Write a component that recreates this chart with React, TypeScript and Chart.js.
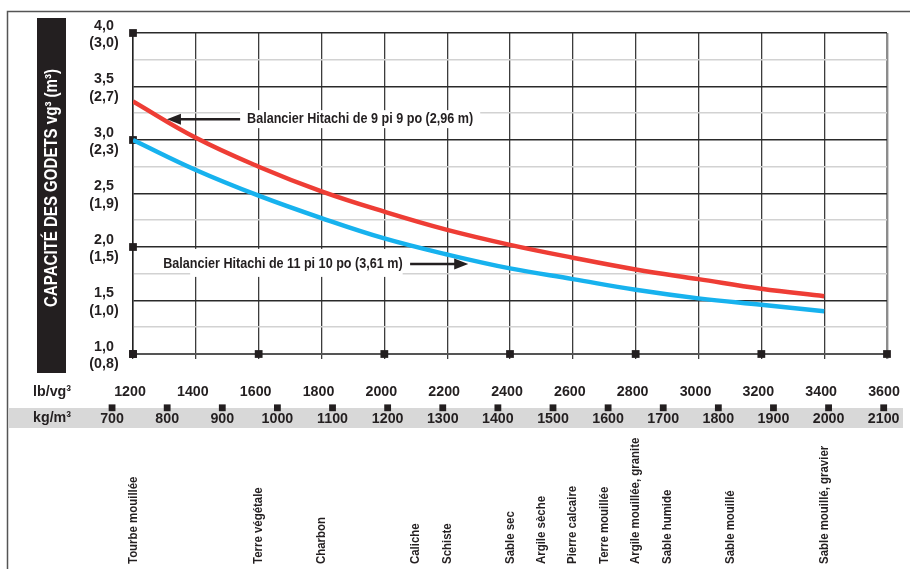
import React, { useEffect, useRef } from "react";
import { Chart, registerables } from "chart.js";

Chart.register(...registerables);

// ---- data ----
const lbTicks = [1200, 1400, 1600, 1800, 2000, 2200, 2400, 2600, 2800, 3000, 3200, 3400, 3600];
const kgTicks = [700, 800, 900, 1000, 1100, 1200, 1300, 1400, 1500, 1600, 1700, 1800, 1900, 2000, 2100];
const capYd = [4.0, 3.5, 3.0, 2.5, 2.0, 1.5, 1.0];
const capYdLabels = ["4,0", "3,5", "3,0", "2,5", "2,0", "1,5", "1,0"];
const capM3Labels = ["(3,0)", "(2,7)", "(2,3)", "(1,9)", "(1,5)", "(1,0)", "(0,8)"];

const densityLb = [1200, 1400, 1600, 1800, 2000, 2200, 2400, 2600, 2800, 3000, 3200, 3400];
const boom296 = [3.36, 3.02, 2.75, 2.52, 2.33, 2.16, 2.02, 1.9, 1.79, 1.7, 1.61, 1.54];
const boom361 = [3.0, 2.72, 2.48, 2.27, 2.08, 1.93, 1.8, 1.7, 1.6, 1.52, 1.46, 1.4];
const boom296Label = "Balancier Hitachi de 9 pi 9 po (2,96 m)";
const boom361Label = "Balancier Hitachi de 11 pi 10 po (3,61 m)";

const materials = [
  "Tourbe mouillée",
  "Terre végétale",
  "Charbon",
  "Caliche",
  "Schiste",
  "Sable sec",
  "Argile sèche",
  "Pierre calcaire",
  "Terre mouillée",
  "Argile mouillée, granite",
  "Sable humide",
  "Sable mouillé",
  "Sable mouillé, gravier",
];
const materialLb = [1200, 1600, 1800, 2100, 2200, 2400, 2500, 2600, 2700, 2800, 2900, 3100, 3400];

const markerLb = [1200, 1600, 2000, 2400, 2800, 3200, 3600];
const markerCap = [4, 3, 2, 1];

const yTitle = "CAPACITÉ DES GODETS vg³ (m³)";
const lbUnit = "lb/vg³";
const kgUnit = "kg/m³";

// ---- styles ----
const FONT = '"Liberation Sans", Arial, Helvetica, sans-serif';
const INK = "#231f20";
const RED = "#ee3d35";
const BLUE = "#17b2ee";

function txt(
  ctx: CanvasRenderingContext2D,
  s: string,
  x: number,
  y: number,
  size: number,
  sx: number,
  align: CanvasTextAlign = "center",
  rot = 0
) {
  ctx.save();
  ctx.translate(x, y);
  if (rot) ctx.rotate(rot);
  ctx.scale(sx, 1);
  ctx.font = `bold ${size}px ${FONT}`;
  ctx.textAlign = align;
  ctx.textBaseline = "middle";
  ctx.fillText(s, 0, 0);
  ctx.restore();
}

function txtWidth(ctx: CanvasRenderingContext2D, s: string, size: number, sx: number) {
  ctx.save();
  ctx.font = `bold ${size}px ${FONT}`;
  const w = ctx.measureText(s).width * sx;
  ctx.restore();
  return w;
}

const TICK_SIZE = 15.5;
const TICK_SX = 0.92;
const ANN_SIZE = 14;
const ANN_SX = 0.9;

const decorPlugin = {
  id: "decor",
  beforeDraw(chart: any) {
    const ctx = chart.ctx;
    ctx.save();
    // outer frame
    ctx.strokeStyle = "#555";
    ctx.lineWidth = 1.5;
    ctx.beginPath();
    ctx.moveTo(7.5, 580);
    ctx.lineTo(7.5, 11.5);
    ctx.lineTo(920, 11.5);
    ctx.stroke();
    // y title box
    ctx.fillStyle = INK;
    ctx.fillRect(37, 18, 29, 355);
    ctx.fillStyle = "#fff";
    txt(ctx, yTitle, 52, 188, 17.5, 0.86, "center", -Math.PI / 2);
    // kg band
    ctx.fillStyle = "#d8d8d8";
    ctx.fillRect(8, 408, 895, 20);
    ctx.restore();
  },
  beforeDatasetsDraw(chart: any) {
    const ctx = chart.ctx;
    const x = chart.scales.x;
    const y = chart.scales.y;
    ctx.save();
    ctx.fillStyle = "#fff";
    const a1x = x.getPixelForValue(1563);
    const a1y = y.getPixelForValue(3.195);
    const w1 = txtWidth(ctx, boom296Label, ANN_SIZE, ANN_SX);
    ctx.fillRect(a1x - 7, a1y - 9, w1 + 14, 18);
    const a2x = x.getPixelForValue(1296);
    const a2y = y.getPixelForValue(1.842);
    const w2 = txtWidth(ctx, boom361Label, ANN_SIZE, ANN_SX);
    ctx.fillRect(a2x + 27, a2y - 15, w2 - 27, 28);
    ctx.restore();
  },
  afterDatasetsDraw(chart: any) {
    const ctx = chart.ctx;
    const x = chart.scales.x;
    const y = chart.scales.y;
    const xkg = chart.scales.xkg;
    ctx.save();
    ctx.fillStyle = INK;
    ctx.strokeStyle = INK;

    // y tick labels
    capYd.forEach((v, i) => {
      const py = y.getPixelForValue(v);
      txt(ctx, capYdLabels[i], 104, py - 7.5, TICK_SIZE, TICK_SX);
      txt(ctx, capM3Labels[i], 104, py + 10, TICK_SIZE, TICK_SX);
    });

    // lb labels
    lbTicks.forEach((v) => {
      txt(ctx, String(v), x.getPixelForValue(v) - 3, 392, TICK_SIZE, TICK_SX);
    });
    txt(ctx, lbUnit, 33, 392, TICK_SIZE, TICK_SX, "left");
    txt(ctx, kgUnit, 33, 418, TICK_SIZE, TICK_SX, "left");

    // kg labels & markers
    kgTicks.forEach((v) => {
      const px = xkg.getPixelForValue(v);
      ctx.fillRect(px - 3.4, 404.4, 6.8, 6.8);
      txt(ctx, String(v), px, 419, TICK_SIZE, TICK_SX);
    });

    // annotations
    const drawArrow = (fromX: number, toX: number, py: number) => {
      const dir = toX > fromX ? 1 : -1;
      ctx.lineWidth = 2.5;
      ctx.beginPath();
      ctx.moveTo(fromX, py);
      ctx.lineTo(toX - dir * 12, py);
      ctx.stroke();
      ctx.beginPath();
      ctx.moveTo(toX, py);
      ctx.lineTo(toX - dir * 14, py - 5.5);
      ctx.lineTo(toX - dir * 14, py + 5.5);
      ctx.closePath();
      ctx.fill();
    };
    const a1x = x.getPixelForValue(1563);
    const a1y = y.getPixelForValue(3.195);
    txt(ctx, boom296Label, a1x, a1y, ANN_SIZE, ANN_SX, "left");
    drawArrow(x.getPixelForValue(1541), x.getPixelForValue(1308), a1y);
    const a2x = x.getPixelForValue(1296);
    const a2y = y.getPixelForValue(1.842);
    txt(ctx, boom361Label, a2x, a2y, ANN_SIZE, ANN_SX, "left");
    drawArrow(x.getPixelForValue(2082), x.getPixelForValue(2267), a2y);

    // materials
    materials.forEach((m, i) => {
      const px = x.getPixelForValue(materialLb[i]);
      txt(ctx, m, px, 564, 13.3, 0.86, "left", -Math.PI / 2);
    });
    ctx.restore();
  },
};

const isHalf = (v: number) => Math.abs(v * 2 - Math.round(v * 2)) < 1e-6;

export default function App() {
  const ref = useRef<HTMLCanvasElement | null>(null);
  useEffect(() => {
    if (!ref.current) return;
    const chart = new Chart(ref.current, {
      type: "line",
      data: {
        datasets: [
          {
            label: boom296Label,
            data: densityLb.map((d, i) => ({ x: d, y: boom296[i] })),
            borderColor: RED,
            borderWidth: 4.5,
            pointRadius: 0,
            tension: 0.4,
            fill: false,
          },
          {
            label: boom361Label,
            data: densityLb.map((d, i) => ({ x: d, y: boom361[i] })),
            borderColor: BLUE,
            borderWidth: 4.5,
            pointRadius: 0,
            tension: 0.4,
            fill: false,
          },
          {
            label: "markers-x",
            data: markerLb.map((d) => ({ x: d, y: 1 })),
            showLine: false,
            pointStyle: "rect",
            pointRadius: 5.5,
            pointBackgroundColor: INK,
            pointBorderWidth: 0,
            clip: false,
          } as any,
          {
            label: "markers-y",
            data: markerCap.map((c) => ({ x: 1200, y: c })),
            showLine: false,
            pointStyle: "rect",
            pointRadius: 5.5,
            pointBackgroundColor: INK,
            pointBorderWidth: 0,
            clip: false,
          } as any,
        ],
      },
      options: {
        responsive: false,
        animation: false,
        events: [],
        layout: { padding: { left: 133, top: 33, right: 23, bottom: 210 } },
        plugins: { legend: { display: false }, tooltip: { enabled: false } },
        scales: {
          x: {
            type: "linear",
            min: 1200,
            max: 3600,
            ticks: { stepSize: 200, display: false },
            grid: {
              color: (c: any) => (c.tick && c.tick.value === 3600 ? "#8c8c8c" : "#3c3c3c"),
              lineWidth: (c: any) => (c.tick && c.tick.value === 3600 ? 2.4 : 1.3),
              drawTicks: true,
              tickLength: 5,
            },
            border: { display: true, color: "#555", width: 2 },
          },
          xkg: {
            type: "linear",
            display: false,
            min: 738,
            max: 2106,
            position: "bottom",
          },
          y: {
            type: "linear",
            min: 1,
            max: 4,
            ticks: { stepSize: 0.25, display: false },
            grid: {
              color: (c: any) => (c.tick && isHalf(c.tick.value) ? "#2a2a2a" : "#d2d2d2"),
              lineWidth: (c: any) => (c.tick && isHalf(c.tick.value) ? 1.4 : 1.6),
              drawTicks: false,
            },
            border: { display: true, color: "#222", width: 1.5 },
          },
        },
      },
      plugins: [decorPlugin],
    } as any);
    return () => chart.destroy();
  }, []);
  return (
    <div style={{ position: "absolute", left: 0, top: 0, width: 910, height: 569, background: "#fff" }}>
      <canvas ref={ref} width={910} height={569} style={{ display: "block", width: 910, height: 569 }} />
    </div>
  );
}
